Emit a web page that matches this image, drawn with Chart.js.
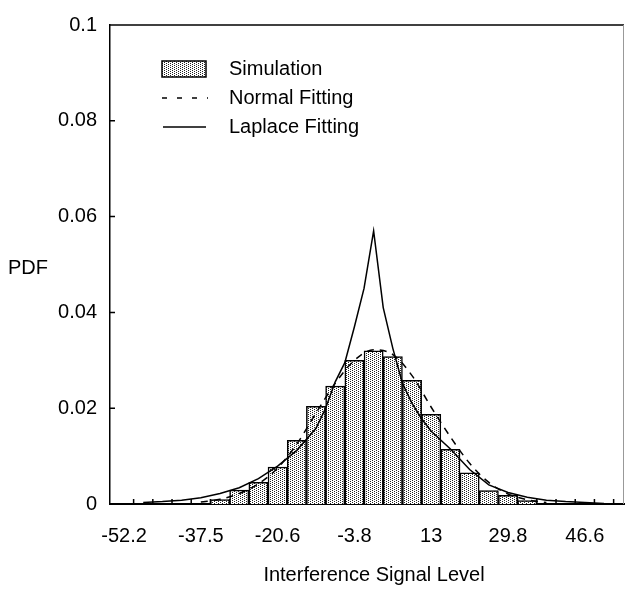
<!DOCTYPE html>
<html lang="en">
<head>
  <meta charset="UTF-8" />
  <title>Interference PDF</title>
  <style>
    html, body {
      margin: 0;
      padding: 0;
      background: #fff;
    }
    #wrap {
      width: 629px;
      height: 589px;
    }
  </style>
</head>
<body>

<div id="wrap"><canvas id="pdfChart"></canvas></div>

<script src="https://cdn.jsdelivr.net/npm/chart.js"></script>

<script>
  // x positions are histogram bin numbers (bin width = 4.2 signal units)
  const labelBins = [0, 4, 8, 12, 16, 20, 24];
  const tickLabels = ['-52.2', '-37.5', '-20.6', '-3.8', '13', '29.8', '46.6'];

  // simulated histogram
  const simBins = [5, 6, 7, 8, 9, 10, 11, 12, 13, 14, 15, 16, 17, 18, 19, 20, 21];
  const simPdf = [0.0009, 0.0029, 0.0045, 0.0077, 0.0133, 0.0204, 0.0246, 0.0300, 0.0320,
                  0.0308, 0.0258, 0.0187, 0.0114, 0.0065, 0.0028, 0.0018, 0.0007];

  // normal fitting curve
  const normalPos = [4, 5, 6, 7, 8, 9, 10, 11, 12, 13, 14, 15, 16, 17, 18, 19, 20, 21, 22];
  const normalPdf = [0.0004, 0.0010, 0.0022, 0.0042, 0.0075, 0.0125, 0.0190, 0.0252, 0.0300, 0.0322,
                     0.0312, 0.0268, 0.0202, 0.0140, 0.0085, 0.0045, 0.0021, 0.0009, 0.0003];

  // laplace fitting curve
  const laplacePos = [1, 2, 3, 4, 5, 6, 7, 8, 9, 10, 10.5, 11, 11.5, 12, 12.5, 13,
                      13.5, 14, 14.5, 15, 15.5, 16, 17, 18, 19, 20, 21, 22, 23, 24, 25];
  const laplacePdf = [0.0003, 0.0005, 0.0008, 0.0013, 0.0022, 0.0034, 0.0053, 0.0079, 0.0112, 0.0158,
                      0.0200, 0.0255, 0.0295, 0.0370, 0.0450, 0.0570,
                      0.0410, 0.0325, 0.0252, 0.0210, 0.0178, 0.0152, 0.0115, 0.0072, 0.0040,
                      0.0024, 0.0014, 0.0008, 0.0005, 0.0003, 0.0001];

  const FONT = { family: '"Liberation Sans", Arial, Helvetica, sans-serif', size: 20 };

  // light dotted fill like the printed histogram
  function makeStipple() {
    const c = document.createElement('canvas');
    c.width = 4;
    c.height = 2;
    const g = c.getContext('2d');
    g.fillStyle = '#fff';
    g.fillRect(0, 0, 4, 2);
    g.fillStyle = '#222';
    g.fillRect(0, 0, 1, 1);
    g.fillRect(2, 1, 1, 1);
    return g.createPattern(c, 'repeat');
  }
  const stipple = makeStipple();

  // box edges, inward tick marks, axis texts and the legend
  const decorations = {
    id: 'decorations',
    beforeDatasetsDraw(chart) {
      const { ctx, chartArea: a, scales } = chart;
      ctx.save();
      ctx.strokeStyle = '#000';
      ctx.lineWidth = 1.5;
      ctx.beginPath();
      for (let e = 0.5; e < scales.x.max; e += 1) {
        const px = scales.x.getPixelForValue(e);
        ctx.moveTo(px, a.bottom);
        ctx.lineTo(px, a.bottom - 5);
      }
      scales.y.ticks.forEach(t => {
        if (t.value <= 0 || t.value >= scales.y.max) return;
        const py = scales.y.getPixelForValue(t.value);
        ctx.moveTo(a.left, py);
        ctx.lineTo(a.left + 5, py);
      });
      ctx.stroke();
      ctx.restore();
    },
    afterDraw(chart) {
      const { ctx, chartArea: a } = chart;
      ctx.save();
      // top and right frame
      ctx.strokeStyle = '#000';
      ctx.lineWidth = 1.5;
      ctx.beginPath();
      ctx.moveTo(a.left, a.top);
      ctx.lineTo(a.right, a.top);
      ctx.stroke();
      ctx.strokeStyle = '#999';
      ctx.lineWidth = 1;
      ctx.beginPath();
      ctx.moveTo(a.right - 0.5, a.top);
      ctx.lineTo(a.right - 0.5, a.bottom);
      ctx.stroke();

      // axis titles
      ctx.fillStyle = '#000';
      ctx.font = FONT.size + 'px ' + FONT.family;
      ctx.textBaseline = 'middle';
      ctx.textAlign = 'left';
      ctx.fillText('PDF', 8, (a.top + a.bottom) / 2 + 4);
      ctx.textAlign = 'center';
      ctx.fillText('Interference Signal Level', (a.left + a.right) / 2 + 7, a.bottom + 71);

      // legend
      const lx = a.left + 52;
      const rows = [a.top + 44, a.top + 73, a.top + 102];
      const ds = chart.data.datasets;
      const sim = ds.find(d => d.label === 'Simulation');
      const nor = ds.find(d => d.label === 'Normal Fitting');
      const lap = ds.find(d => d.label === 'Laplace Fitting');

      ctx.fillStyle = sim.backgroundColor;
      ctx.fillRect(lx, rows[0] - 8, 44, 16);
      ctx.strokeStyle = '#000';
      ctx.lineWidth = 1.5;
      ctx.strokeRect(lx, rows[0] - 8, 44, 16);

      ctx.lineWidth = nor.borderWidth;
      ctx.setLineDash([5, 10]);
      ctx.beginPath();
      ctx.moveTo(lx, rows[1]);
      ctx.lineTo(lx + 46, rows[1]);
      ctx.stroke();

      ctx.lineWidth = lap.borderWidth;
      ctx.setLineDash([]);
      ctx.beginPath();
      ctx.moveTo(lx + 1, rows[2]);
      ctx.lineTo(lx + 44, rows[2]);
      ctx.stroke();

      ctx.fillStyle = '#000';
      ctx.textAlign = 'left';
      [sim, nor, lap].forEach((d, i) => ctx.fillText(d.label, lx + 67, rows[i]));
      ctx.restore();
    }
  };

  const ctx = document.getElementById('pdfChart').getContext('2d');
  const pdfChart = new Chart(ctx, {
    type: 'bar',
    data: {
      datasets: [
        {
          type: 'line',
          label: 'Laplace Fitting',
          data: laplacePos.map((p, i) => ({ x: p, y: laplacePdf[i] })),
          borderColor: '#000',
          borderWidth: 1.5,
          pointRadius: 0,
          tension: 0,
          order: 1
        },
        {
          type: 'line',
          label: 'Normal Fitting',
          data: normalPos.map((p, i) => ({ x: p, y: normalPdf[i] })),
          borderColor: '#000',
          borderWidth: 1.5,
          borderDash: [7, 6],
          pointRadius: 0,
          cubicInterpolationMode: 'monotone',
          order: 2
        },
        {
          type: 'bar',
          label: 'Simulation',
          data: simBins.map((b, i) => ({ x: b, y: simPdf[i] })),
          backgroundColor: stipple,
          borderColor: '#000',
          borderWidth: 1.5,
          borderSkipped: 'start',
          barPercentage: 1,
          categoryPercentage: 1,
          order: 3
        }
      ]
    },
    options: {
      responsive: true,
      maintainAspectRatio: false,
      animation: false,
      layout: { padding: { top: 17, right: 5, left: 0, bottom: 0 } },
      plugins: {
        legend: { display: false },
        tooltip: { enabled: false }
      },
      scales: {
        x: {
          type: 'linear',
          offset: false,
          min: -0.73,
          max: 26.04,
          grid: { display: false, drawTicks: false, offset: false },
          border: { color: '#000', width: 2 },
          ticks: {
            font: FONT,
            color: '#000',
            padding: 20,
            autoSkip: false,
            maxRotation: 0,
            callback: v => tickLabels[labelBins.indexOf(v)]
          },
          afterBuildTicks: s => { s.ticks = labelBins.map(v => ({ value: v })); },
          afterFit: s => { s.height = 85; }
        },
        y: {
          min: 0,
          max: 0.1,
          grid: { display: false, drawTicks: false },
          border: { color: '#000', width: 1.5 },
          ticks: {
            stepSize: 0.02,
            font: FONT,
            color: '#000',
            padding: 13,
            callback: v => String(+v.toFixed(2))
          },
          afterFit: s => { s.width = 110; }
        }
      }
    },
    plugins: [decorations]
  });
</script>

</body>
</html>
